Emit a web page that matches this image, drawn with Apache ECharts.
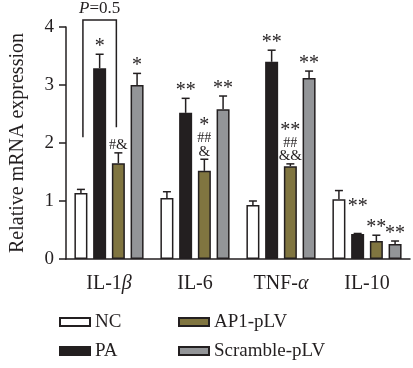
<!DOCTYPE html>
<html>
<head>
<meta charset="utf-8">
<script src="https://cdn.jsdelivr.net/npm/echarts@6/dist/echarts.min.js"></script>
<style>html,body{margin:0;padding:0;background:#fff;}#c{width:413px;height:368px;}</style>
</head>
<body>
<div id="c"></div>
<script>
// ---- data ----
const categories = ['IL-1β', 'IL-6', 'TNF-α', 'IL-10'];
const groupNames = ['NC', 'PA', 'AP1-pLV', 'Scramble-pLV'];
const ncMean  = [1.14, 1.05, 0.93, 1.03];
const ncSem   = [0.06, 0.11, 0.07, 0.15];
const paMean  = [3.29, 2.52, 3.40, 0.43];
const paSem   = [0.24, 0.25, 0.20, 0.01];
const ap1Mean = [1.65, 1.52, 1.60, 0.31];
const ap1Sem  = [0.18, 0.20, 0.04, 0.10];
const scrMean = [3.00, 2.58, 3.12, 0.26];
const scrSem  = [0.20, 0.23, 0.12, 0.05];
const ncMarks  = ['', '', '', ''];
const paMarks  = ['*', '**', '**', '**'];
const ap1Marks = ['#&', '*\n##\n&', '**\n##\n&&', '**'];
const scrMarks = ['*', '**', '**', '**'];
const yTicks = [0, 1, 2, 3, 4];
const bracketGroups = [0, 2];      // NC vs AP1-pLV within IL-1β
const bracketCategory = 0;
const bracketTop = 4.12;
const bracketLegEnds = [2.1, 2.27];
const bracketLabel = 'P=0.5';

// ---- style ----
const FONT = 'Liberation Serif';
const INK = '#231f20';
const colors = ['#ffffff', '#231f20', '#807540', '#939598'];
const BAR_W = 13, BAR_GAP = 0.44;
const STEP = BAR_W * (1 + BAR_GAP);

const means = [ncMean, paMean, ap1Mean, scrMean];
const sems = [ncSem, paSem, ap1Sem, scrSem];
const marks = [ncMarks, paMarks, ap1Marks, scrMarks];

const errData = [];
for (let g = 0; g < 4; g++) {
  for (let c = 0; c < categories.length; c++) {
    errData.push([c, g, means[g][c], means[g][c] + sems[g][c]]);
  }
}

function richMarks(s) {
  return s.split('\n').map(line => {
    let out = '';
    for (const ch of line) {
      const k = ch === '*' ? 'a' : ch === '#' ? 'h' : 'm';
      out += '{' + k + '|' + ch + '}';
    }
    return out;
  }).join('\n');
}

function greekFmt(v) {
  const m = v.match(/^(.*?)([α-ω])$/);
  if (m) return '{n|' + m[1] + '}{g|' + m[2] + '}';
  return '{n|' + v + '}';
}

const series = groupNames.map((name, g) => ({
  name: name,
  type: 'bar',
  barWidth: BAR_W,
  barGap: (BAR_GAP * 100) + '%',
  itemStyle: { color: colors[g], borderColor: INK, borderWidth: 1.5 },
  data: means[g]
}));

series.push({
  type: 'custom',
  name: 'err',
  clip: false,
  silent: true,
  encode: { x: 0, y: 3 },
  data: errData,
  z: 5,
  renderItem: function (params, api) {
    const c = api.value(0), g = api.value(1);
    const base = api.coord([c, api.value(2)]);
    const top = api.coord([c, api.value(3)]);
    const x = base[0] + (g - 1.5) * STEP;
    const children = [
      { type: 'line', shape: { x1: x, y1: base[1], x2: x, y2: top[1] }, style: { stroke: INK, lineWidth: 1.5 } },
      { type: 'line', shape: { x1: x - 4, y1: top[1], x2: x + 4, y2: top[1] }, style: { stroke: INK, lineWidth: 1.5 } }
    ];
    const txt = marks[g][c];
    if (txt) {
      const lift = (g === 1 && c === 3) ? 20 : 1;
      children.push({
        type: 'text',
        x: x, y: top[1] - lift,
        style: {
          text: richMarks(txt),
          align: 'center', verticalAlign: 'bottom',
          fill: INK,
          rich: {
            a: { fontFamily: FONT, fontSize: 20, lineHeight: 13, fill: INK },
            h: { fontFamily: FONT, fontSize: 14, lineHeight: 13, fill: INK },
            m: { fontFamily: FONT, fontSize: 15, lineHeight: 13, fill: INK }
          }
        }
      });
    }
    return { type: 'group', children: children };
  }
});

series.push({
  type: 'custom',
  name: 'bracket',
  clip: false,
  silent: true,
  encode: { x: 0, y: 1 },
  data: [[bracketCategory, bracketTop]],
  z: 5,
  renderItem: function (params, api) {
    const c = api.value(0);
    const t = api.coord([c, bracketTop]);
    const l = api.coord([c, bracketLegEnds[0]]);
    const r = api.coord([c, bracketLegEnds[1]]);
    const xl = t[0] + (bracketGroups[0] - 1.5) * STEP + 2;
    const xr = t[0] + (bracketGroups[1] - 1.5) * STEP - 2;
    return {
      type: 'group',
      children: [
        { type: 'polyline', shape: { points: [[xl, l[1]], [xl, t[1]], [xr, t[1]], [xr, r[1]]] }, style: { stroke: INK, lineWidth: 1.5, fill: null } },
        { type: 'text', x: (xl + xr) / 2, y: t[1] - 3,
          style: { text: '{i|P}{n|=0.5}', align: 'center', verticalAlign: 'bottom',
            rich: { i: { fontFamily: FONT, fontSize: 17, fontStyle: 'italic', fill: INK },
                    n: { fontFamily: FONT, fontSize: 17, fill: INK } } } }
      ]
    };
  }
});

const legendText = { fontFamily: FONT, fontSize: 19, color: INK, lineHeight: 20 };
const chart = echarts.init(document.getElementById('c'), null, { renderer: 'canvas' });
chart.setOption({
  animation: false,
  grid: { left: 62, right: 3, top: 27, bottom: 109 },
  legend: [
    { data: [groupNames[0], groupNames[1]], orient: 'vertical', left: 59, top: 312,
      icon: 'rect', itemWidth: 30, itemHeight: 8, itemGap: 9, textStyle: legendText, padding: 0 },
    { data: [groupNames[2], groupNames[3]], orient: 'vertical', left: 178, top: 312,
      icon: 'rect', itemWidth: 30, itemHeight: 8, itemGap: 9, textStyle: legendText, padding: 0 }
  ],
  xAxis: {
    type: 'category',
    data: categories,
    axisLine: { lineStyle: { color: INK, width: 1.5 } },
    axisTick: { alignWithLabel: true, length: 7, lineStyle: { color: INK, width: 1.5 } },
    axisLabel: {
      interval: 0, hideOverlap: false,
      margin: 15, formatter: greekFmt,
      rich: {
        n: { fontFamily: FONT, fontSize: 20, color: INK },
        g: { fontFamily: FONT, fontSize: 20, fontStyle: 'italic', color: INK }
      }
    }
  },
  yAxis: {
    type: 'value', min: yTicks[0], max: yTicks[yTicks.length - 1], interval: 1,
    name: 'Relative mRNA expression', nameLocation: 'middle', nameGap: 38,
    nameTextStyle: { fontFamily: FONT, fontSize: 20, color: INK },
    splitLine: { show: false },
    axisLine: { show: true, lineStyle: { color: INK, width: 1.5 } },
    axisTick: { show: true, length: 7, lineStyle: { color: INK, width: 1.5 } },
    axisLabel: { margin: 12, fontFamily: FONT, fontSize: 19, color: INK }
  },
  series: series
});
</script>
</body>
</html>
